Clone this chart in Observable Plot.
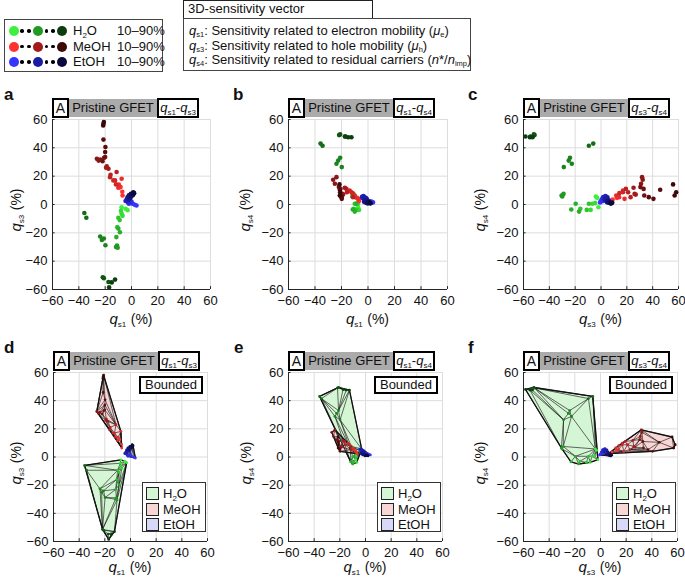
<!DOCTYPE html>
<html><head><meta charset="utf-8">
<script src="https://cdn.jsdelivr.net/npm/d3@7"></script>
<script src="https://cdn.jsdelivr.net/npm/@observablehq/plot@0.6"></script>
<style>
body{margin:0;background:#fff;font-family:"Liberation Sans",Arial,Helvetica,sans-serif;color:#111;}
#fig{position:relative;width:685px;height:583px;overflow:hidden;}
.abs{position:absolute;white-space:nowrap;}
sub{font-size:8px;vertical-align:-3px;line-height:0;}
.defs sub{font-size:7.5px;vertical-align:-2px;}
.hdr{position:absolute;height:20px;display:flex;align-items:center;}
.hA{width:17px;height:20px;border:2px solid #000;background:#fff;box-sizing:border-box;text-align:center;font-size:14px;line-height:16px;}
.hG{background:#ababab;height:18px;width:88px;font-size:13px;line-height:18px;text-align:center;}
.hQ{width:42px;height:20px;border:2px solid #000;background:#fff;box-sizing:border-box;text-align:center;font-size:13px;line-height:15px;}
.letter{font-weight:bold;font-size:17px;line-height:17px;}
.bnd{border:2px solid #000;background:#fff;box-sizing:border-box;width:64px;height:18px;font-size:13px;line-height:14px;text-align:center;}
.blg{border:1.5px solid #333;background:#fff;box-sizing:border-box;width:64px;height:50px;font-size:13px;}
.blg .it{position:absolute;left:3px;height:14px;line-height:14px;}
.sw{display:inline-block;width:11px;height:11px;border:1px solid #222;vertical-align:-2px;margin-right:4px;}
.dot{position:absolute;border-radius:50%;}
</style></head><body><div id="fig"></div>
<script>
// ---------- data ----------
const ticks = [-60, -40, -20, 0, 20, 40, 60];
const solvents = ["H2O", "MeOH", "EtOH"];
const concRange = "10–90%";

const h2oConc = [10,10,10, 20,20,20, 30,30,30, 40,40,40, 50,50,50, 60,60,60,60, 70,70, 80,80,80, 90,90,90];
const h2oQs1  = [-3,-7.5,-4.5, -8,-7.5,-6.8, -10,-9,-10.8, -8.8,-11.5,-10, -11,-11.8,-10.5, -23.8,-22.5,-19.8,-21, -35.8,-34.3, -21.8,-21,-17.5, -12.5,-17,-15];
const h2oQs3  = [-4,-2,-3, -4.5,-6.6,-8, -9.4,-11,-16, -19.6,-23,-17, -29,-30,-30.5, -22.6,-25,-28.8,-24, -6,-9.4, -51.4,-52,-54.7, -53,-58.5,-55];
const h2oQs4  = [5.7,-1.9,4.7, 1,0.5,-3.8, 0.5,-3.8,-3, 0.5,-3.5,-5, 7.5,5.7,6.4, 28.8,31,26.4,33, 43,41.5, 49,49.5,48, 47.5,48,47.5];

const meohConc = [10,10,10, 20,20,20, 30,30,30, 40,40,40, 50,50,50, 60,60,60, 70,70,70, 80,80,80, 90,90,90];
const meohQs1  = [-6.8,-8.3,-7, -7.5,-10,-9.6, -11.8,-12.5,-13.8, -16.3,-11.3,-15.9, -17.5,-18.8,-19.3, -23.8,-26.3,-25, -20.8,-20,-22, -20,-19.8,-21.3, -21.3,-21,-21.5];
const meohQs3  = [6.4,12.3,9, 18.2,11.8,14, 14.2,17,17, 19.3,22.9,21, 25.2,26.9,26, 31.8,32.3,31, 33,33.5,30.5, 37,40.6,45.8, 57,58.2,55.8];
const meohQs4  = [2.4,4.7,3.5, 4,6.4,5.2, 8,8.7,9.9, 11,5.2,8.7, 11.8,7,7.5, 19.3,17.5,14.6, 11,6.4,12.3, 5.2,4,10.4, 6.4,8.7,14.2];

const etohConc = [10,10,10, 20,20,20, 30,30,30, 40,40,40, 50,50,50, 60,60,60, 70,70,70, 80,80,80, 90,90,90];
const etohQs1  = [3.8,2.5,1, -1,0,-2, -3,-4,-2.5, -4.5,-3.5,-1.5, -2.5,-1,-3, -2,-1.5,-3, -1,0,-2, 0.5,1,-0.5, 1.3,2,1.5];
const etohQs3  = [-0.7,-0.2,0.5, 1,2,0.5, 2,3,1.5, 2.5,3.5,4, 3,4.5,5, 5.5,6,4.5, 5,6,6.5, 7,6.5,7.5, 8.7,8,7.8];
const etohQs4  = [1.5,2,2.5, 3,2.5,3.5, 4,4.5,5, 5.5,6,4.5, 3.5,4,5, 2.5,3,2, 1.5,2,1.5, 1,1.5,0.8, 1.3,0.8,1];

// ---------- styles ----------
const palettes = {H2O:["#3cf03c","#1f9a22","#0b3d0f"], MeOH:["#ff3030","#a31a1a","#3d0808"], EtOH:["#3535ff","#1c1ca3","#0a0a3d"]};
const hullFill = {H2O:"#d5f6d5", MeOH:"#f8d6d6", EtOH:"#d8d8f8"};
const labels = {H2O:"H<sub>2</sub>O", MeOH:"MeOH", EtOH:"EtOH"};

function shade(s, c){ return d3.scaleLinear().domain([10,50,90]).range(palettes[s])(c); }
function rows(s, conc, a, b, c){ return conc.map((k,i)=>({solvent:s, conc:k, qs1:a[i], qs3:b[i], qs4:c[i], color:shade(s,k)})); }
const data = {
  H2O: rows("H2O", h2oConc, h2oQs1, h2oQs3, h2oQs4),
  MeOH: rows("MeOH", meohConc, meohQs1, meohQs3, meohQs4),
  EtOH: rows("EtOH", etohConc, etohQs1, etohQs3, etohQs4)
};

const panels = [
  {id:"a", xk:"qs1", yk:"qs3", fx:52,  fy:119, fw:158, fh:170, ylx:16,  bounded:false},
  {id:"b", xk:"qs1", yk:"qs4", fx:288, fy:119, fw:159, fh:170, ylx:245, bounded:false},
  {id:"c", xk:"qs3", yk:"qs4", fx:523, fy:119, fw:155, fh:170, ylx:480, bounded:false},
  {id:"d", xk:"qs1", yk:"qs3", fx:53,  fy:372, fw:154, fh:169, ylx:16,  bounded:true},
  {id:"e", xk:"qs1", yk:"qs4", fx:288, fy:372, fw:154, fh:169, ylx:246, bounded:true},
  {id:"f", xk:"qs3", yk:"qs4", fx:523, fy:372, fw:154, fh:169, ylx:480, bounded:true}
];

const fig = document.getElementById("fig");
function add(html, style, cls){ const d=document.createElement("div"); d.className="abs"+(cls?" "+cls:""); d.innerHTML=html; Object.assign(d.style, style); fig.appendChild(d); return d; }
const qlab = k => `<i>q</i><sub>${k.slice(1)}</sub>`;

function makePlot(p){
  const mL=50, mR=14, mT=4, mB=22;
  const X=p.xk, Y=p.yk;
  const marks = [
    Plot.gridX(ticks, {stroke:"#dddddd", strokeOpacity:1}),
    Plot.gridY(ticks, {stroke:"#dddddd", strokeOpacity:1})
  ];
  if (p.bounded){
    for (const s of solvents) marks.push(Plot.hull(data[s], {x:X, y:Y, fill:hullFill[s], fillOpacity:1, stroke:"#111", strokeWidth:1.3}));
    for (const s of solvents){
      marks.push(Plot.delaunayMesh(data[s], {x:X, y:Y, stroke:"#111", strokeOpacity:0.9, strokeWidth:0.7}));
      marks.push(Plot.dot(data[s], {x:X, y:Y, r:1.4, fill:d=>d.color}));
    }
  } else {
    for (const s of solvents) marks.push(Plot.dot(data[s], {x:X, y:Y, r:2.3, fill:d=>d.color}));
  }
  marks.push(
    Plot.ruleX([-60], {stroke:"#262626"}),
    Plot.ruleY([-60], {stroke:"#262626"}),
    Plot.ruleX(ticks, {x:d=>d, y1:-60, y2:-58, stroke:"#262626"}),
    Plot.ruleY(ticks, {y:d=>d, x1:-60, x2:-58, stroke:"#262626"}),
    Plot.axisX(ticks, {tickSize:0, tickPadding:6, label:null, fontSize:13}),
    Plot.axisY(ticks, {tickSize:0, tickPadding:5, label:null, fontSize:13})
  );
  const svg = Plot.plot({
    width: p.fw+mL+mR, height: p.fh+mT+mB,
    marginLeft:mL, marginRight:mR, marginTop:mT, marginBottom:mB,
    x:{domain:[-60,60]}, y:{domain:[-60,60]},
    color:{type:"identity"},
    style:{fontFamily:"Liberation Sans, Arial, sans-serif", fontSize:"13px", color:"#111", background:"transparent", overflow:"visible"},
    marks
  });
  svg.style.position="absolute";
  svg.style.left=(p.fx-mL)+"px";
  svg.style.top=(p.fy-mT)+"px";
  fig.appendChild(svg);

  // panel letter
  add(p.id, {left:(p.ylx-12)+"px", top:(p.fy-33)+"px"}, "letter");
  // header bar
  add(`<div class="hA">A</div><div class="hG">Pristine GFET</div><div class="hQ">${qlab(X)}-${qlab(Y)}</div>`,
      {left:p.fx+"px", top:(p.fy-21)+"px"}, "hdr");
  // axis labels
  add(`<span style="font-size:15px">${qlab(X)}</span> <span style="font-size:14px">(%)</span>`,
      {left:(p.fx+p.fw/2)+"px", top:(p.bounded? p.fy+p.fh+19 : p.fy+p.fh+23)+"px", transform:"translateX(-50%)", lineHeight:"13px"});
  add(`<span style="font-size:15px">${qlab(Y)}</span> <span style="font-size:14px">(%)</span>`,
      {left:p.ylx+"px", top:(p.fy+p.fh/2+6)+"px", transform:"translate(-50%,-50%) rotate(-90deg)", lineHeight:"14px"});
  if (p.bounded){
    add("Bounded", {left:(p.fx+p.fw-4-64)+"px", top:(p.fy+4)+"px"}, "bnd");
    add(solvents.map((s,i)=>`<div class="it" style="top:${4+i*15.5}px"><span class="sw" style="background:${hullFill[s]}"></span>${labels[s]}</div>`).join(""),
      {left:(p.fx+p.fw-1-64)+"px", top:(p.fy+p.fh-9-50)+"px"}, "blg");
  }
}
panels.forEach(makePlot);

// ---------- top-left legend ----------
const lg = add("", {left:"4px", top:"19px", width:"159px", height:"53px", border:"1px solid #444", boxSizing:"border-box"});
solvents.forEach((s,i)=>{
  const cy = 11 + i*15.5;
  const big = [[9,10],[33,50],[57,90]];
  big.forEach(([cx,c])=>{
    const d=document.createElement("div"); d.className="dot";
    Object.assign(d.style,{left:(cx-5)+"px", top:(cy-5)+"px", width:"10px", height:"10px", background:shade(s,c)});
    lg.appendChild(d);
  });
  [17,24,41.5,48].forEach(cx=>{
    const d=document.createElement("div"); d.className="dot";
    Object.assign(d.style,{left:(cx-1.75)+"px", top:(cy-1.75)+"px", width:"3.5px", height:"3.5px", background:"#000"});
    lg.appendChild(d);
  });
  const t=document.createElement("div"); t.className="abs";
  Object.assign(t.style,{left:"68px", top:(cy-7)+"px", fontSize:"13px", lineHeight:"14px"});
  t.innerHTML=labels[s]; lg.appendChild(t);
  const r=document.createElement("div"); r.className="abs";
  Object.assign(r.style,{left:"112px", top:(cy-7)+"px", fontSize:"13px", lineHeight:"14px"});
  r.textContent=concRange; lg.appendChild(r);
});

// ---------- top-center box ----------
add("3D-sensitivity vector", {left:"183px", top:"0px", width:"190px", height:"19px", border:"1.5px solid #222", boxSizing:"border-box", fontSize:"13px", lineHeight:"16px", paddingLeft:"4px", background:"#fff"});
const defs = [
  `<i>q</i><sub>s1</sub>: Sensitivity related to electron mobility (<i>μ</i><sub>e</sub>)`,
  `<i>q</i><sub>s3</sub>: Sensitivity related to hole mobility (<i>μ</i><sub>h</sub>)`,
  `<i>q</i><sub>s4</sub>: Sensitivity related to residual carriers (<i>n</i>*/<i>n</i><sub>imp</sub>)`
];
const box = add("", {left:"183px", top:"18px", width:"288px", height:"53px", border:"1px solid #444", boxSizing:"border-box"}, "defs");
defs.forEach((h,i)=>{
  const t=document.createElement("div"); t.className="abs";
  Object.assign(t.style,{left:"5px", top:(6+i*14.5)+"px", fontSize:"13px", lineHeight:"11px"});
  t.innerHTML=h; box.appendChild(t);
});
</script></body></html>
